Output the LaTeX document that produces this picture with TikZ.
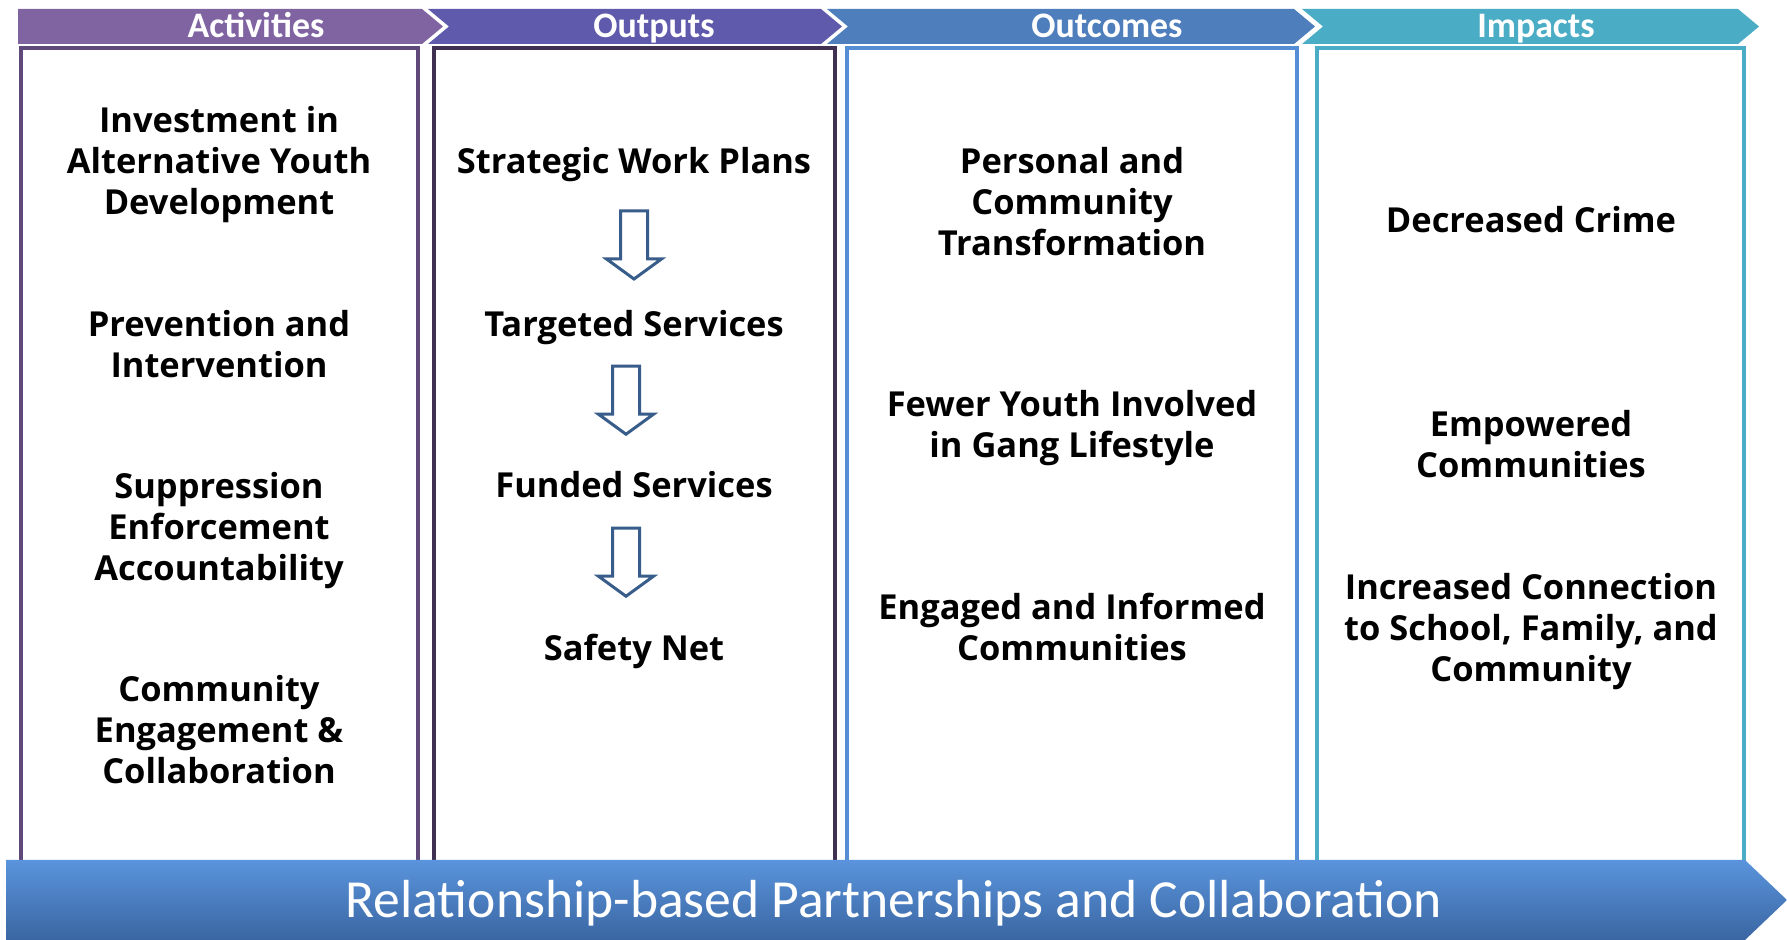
\documentclass[tikz,border=0pt]{standalone}
\usepackage{fontspec}
\setmainfont{Open Sans}
\newfontfamily\headfont{Carlito}
\usetikzlibrary{calc}

\definecolor{actfill}{RGB}{128,100,162}
\definecolor{outfill}{RGB}{96,90,172}
\definecolor{ocfill}{RGB}{79,126,188}
\definecolor{impfill}{RGB}{75,172,198}
\definecolor{actdraw}{RGB}{95,73,122}
\definecolor{outdraw}{RGB}{64,49,82}
\definecolor{ocdraw}{RGB}{85,142,213}
\definecolor{impdraw}{RGB}{75,172,198}
\definecolor{arrowblue}{RGB}{56,93,138}
\definecolor{bannertop}{RGB}{90,148,220}
\definecolor{bannermid}{RGB}{72,130,202}
\definecolor{bannerbot}{RGB}{58,102,162}

\begin{document}
\begin{tikzpicture}[x=0.2mm, y=-0.2mm,
	itemtext/.style = {align=center, inner sep=0pt,
		font=\bfseries\fontsize{19.6}{23.3}\selectfont},
	headtext/.style = {inner sep=0pt, text=white, anchor=base,
		font=\headfont\bfseries\fontsize{20.4}{24}\selectfont},
	colbox/.style = {line width=0.8mm, fill=white},
	downblock/.style = {draw=arrowblue, line width=0.6mm, fill=white, line join=miter}]
\useasboundingbox (0,0) rectangle (1787,940);

% column frames
\draw[colbox, draw=actdraw] (21,48) rectangle (418,870);
\draw[colbox, draw=outdraw] (434,48) rectangle (835,870);
\draw[colbox, draw=ocdraw] (847,48) rectangle (1297,870);
\draw[colbox, draw=impdraw] (1317,48) rectangle (1744,870);

% header chevrons
\foreach \xl/\xr/\nd/\col/\xt/\lab/\nm in {18/422/0/actfill/256/Activities/hact,
		428/821/21/outfill/654/Outputs/hout,
		827/1294/21/ocfill/1107/Outcomes/hoc,
		1302/1738/21/impfill/1536/Impacts/himp}
{
	\fill[\col] (\xl,9) -- (\xr,9) -- (\xr+21,26.5) -- (\xr,44)
		-- (\xl,44) -- (\xl+\nd,26.5) -- cycle;
	\node[headtext] (\nm) at (\xt,37.5) {\lab};
}

% bottom banner
\shade[top color=bannertop, middle color=bannermid, bottom color=bannerbot]
	(6,860) -- (1745,860) -- (1787,900) -- (1745,940) -- (6,940) -- cycle;
\node[text=white, inner sep=0pt, font=\headfont\fontsize{30.5}{36}\selectfont]
	(banner) at (894,903) {Relationship-based Partnerships and Collaboration};

% activities
\node[itemtext] (invest) at (219,164.5) {Investment in\\Alternative Youth\\Development};
\node[itemtext] (prevent) at (219,344) {Prevention and\\Intervention};
\node[itemtext] (suppress) at (219,530.5) {Suppression\\Enforcement\\Accountability};
\node[itemtext] (engage) at (219,730) {Community\\Engagement \&\\Collaboration};

% outputs
\node[itemtext] (plans) at (634,164.5) {Strategic Work Plans};
\node[itemtext] (targeted) at (634,327.5) {Targeted Services};
\node[itemtext] (funded) at (634,485) {Funded Services};
\node[itemtext] (safety) at (634,651.5) {Safety Net};

\foreach \a/\b/\dx/\dy in {plans/targeted/0/-1, targeted/funded/-8/-6, funded/safety/-8/-6}
\draw[downblock] ($(\a)!0.5!(\b)$) ++(\dx-13.5,\dy-34) -- ++(27,0) -- ++(0,48)
	-- ++(14,0) -- ++(-27.5,20) -- ++(-27.5,-20) -- ++(14,0) -- cycle;

% outcomes
\node[itemtext] (transform) at (1072,202) {Personal and\\Community\\Transformation};
\node[itemtext] (fewer) at (1072,428.5) {Fewer Youth Involved\\in Gang Lifestyle};
\node[itemtext] (informed) at (1072,627) {Engaged and Informed\\Communities};

% impacts
\node[itemtext] (crime) at (1531,220) {Decreased Crime};
\node[itemtext] (empower) at (1531,444) {Empowered\\Communities};
\node[itemtext] (connect) at (1531,631.5) {Increased Connection\\to School, Family, and\\Community};
\end{tikzpicture}
\end{document}
